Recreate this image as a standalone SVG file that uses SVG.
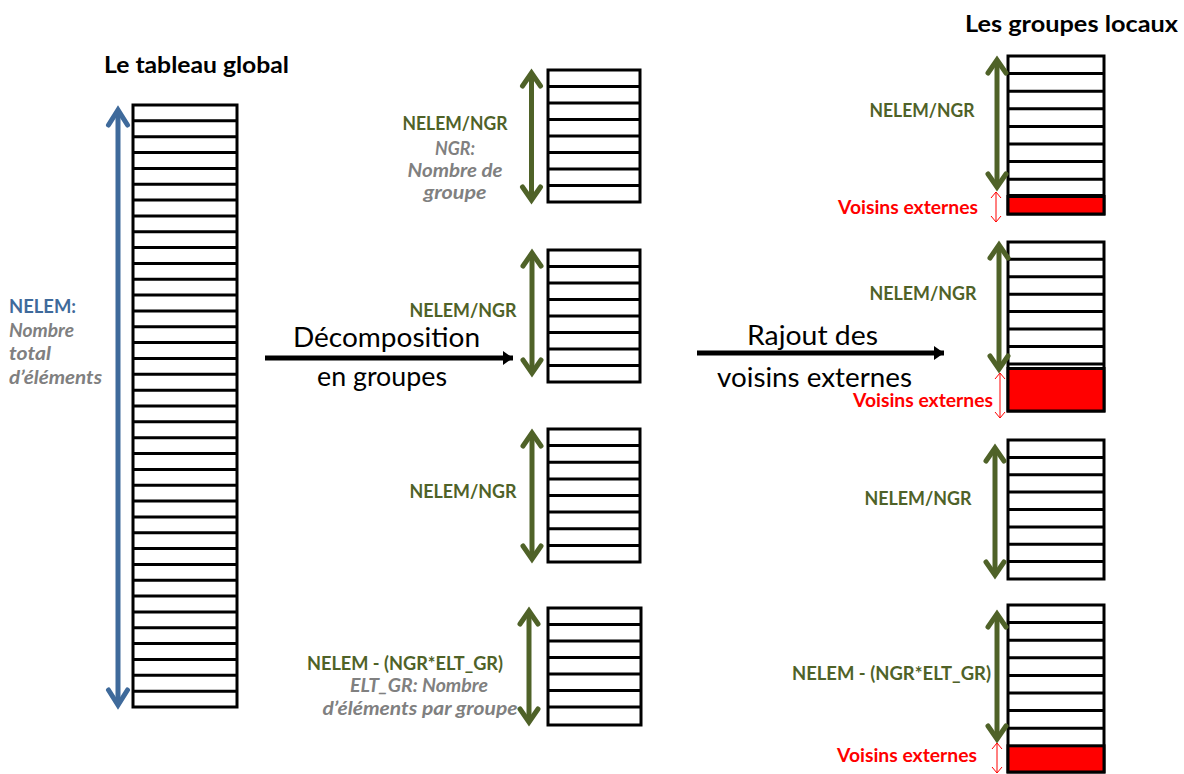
<svg xmlns="http://www.w3.org/2000/svg" width="1184" height="774" viewBox="0 0 1184 774">
<style>
.tbl{fill:#fff;stroke:#000;stroke-width:3}
.rows{fill:none;stroke:#000;stroke-width:3}
.red{fill:#ff0000;stroke:#000;stroke-width:3}
.t{font-family:Lato,"Liberation Sans",sans-serif}
.title{font-size:23px;font-weight:bold;fill:#000}
.big{font-size:27px;fill:#000}
.gl{font-size:18.5px;font-weight:bold;fill:#4F6228}
.gr{font-size:18.5px;font-weight:bold;font-style:italic;fill:#808080}
.bl{font-size:18.5px;font-weight:bold;fill:#3F6A9B}
.rd{font-size:18px;font-weight:bold;fill:#ff0000}
.ga{stroke:#4F6228;stroke-width:5;fill:none}
.ba{stroke:#3F6A9B;stroke-width:5;fill:none}
.ra{stroke:#ff0000;stroke-width:1;fill:none}
.ka{stroke:#000;stroke-width:5;fill:none}
</style>
<defs>
<marker id="mg" markerUnits="userSpaceOnUse" viewBox="-20 -20 40 40" markerWidth="40" markerHeight="40" refX="0" refY="0" orient="auto-start-reverse">
<path d="M-13,-9 L0,0 L-13,9" fill="none" stroke="#4F6228" stroke-width="5" stroke-linecap="round"/>
</marker>
<marker id="mb" markerUnits="userSpaceOnUse" viewBox="-20 -20 40 40" markerWidth="40" markerHeight="40" refX="0" refY="0" orient="auto-start-reverse">
<path d="M-15,-9.5 L0,0 L-15,9.5" fill="none" stroke="#3F6A9B" stroke-width="5" stroke-linecap="round"/>
</marker>
<marker id="mr" markerUnits="userSpaceOnUse" viewBox="-10 -10 20 20" markerWidth="20" markerHeight="20" refX="0" refY="0" orient="auto-start-reverse">
<path d="M-6,-5 L0,0 L-6,5" fill="none" stroke="#ff0000" stroke-width="1"/>
</marker>
<marker id="mk" markerUnits="userSpaceOnUse" viewBox="-12 -12 24 24" markerWidth="24" markerHeight="24" refX="0" refY="0" orient="auto">
<path d="M-10,-7 L0,0 L-10,7 Z" fill="#000"/>
</marker>
</defs>

<text class="t title" x="104" y="73" textLength="185" lengthAdjust="spacingAndGlyphs">Le tableau global</text>
<text class="t title" x="965" y="32" textLength="213" lengthAdjust="spacingAndGlyphs">Les groupes locaux</text>

<g id="global-table">
<rect class="tbl" x="133" y="105" width="104" height="602"/>
<path class="rows" d="M133,120.8H237M133,136.7H237M133,152.5H237M133,168.4H237M133,184.2H237M133,200.1H237M133,215.9H237M133,231.7H237M133,247.6H237M133,263.4H237M133,279.3H237M133,295.1H237M133,311H237M133,326.8H237M133,342.6H237M133,358.5H237M133,374.3H237M133,390.2H237M133,406H237M133,421.8H237M133,437.7H237M133,453.5H237M133,469.4H237M133,485.2H237M133,501.1H237M133,516.9H237M133,532.7H237M133,548.6H237M133,564.4H237M133,580.3H237M133,596.1H237M133,612H237M133,627.8H237M133,643.6H237M133,659.5H237M133,675.3H237M133,691.2H237"/>
<text class="t bl" x="9" y="313" textLength="67" lengthAdjust="spacingAndGlyphs">NELEM:</text>
<text class="t gr" x="9" y="337" textLength="65" lengthAdjust="spacingAndGlyphs">Nombre</text>
<text class="t gr" x="9" y="360" textLength="42" lengthAdjust="spacingAndGlyphs">total</text>
<text class="t gr" x="9" y="384" textLength="93" lengthAdjust="spacingAndGlyphs">d’éléments</text>
</g>

<g id="mid-group-1">
<rect class="tbl" x="548" y="70" width="92" height="132"/>
<path class="rows" d="M548,86.5H640M548,103H640M548,119.5H640M548,136H640M548,152.5H640M548,169H640M548,185.5H640"/>
<text class="t gl" x="455" y="130" text-anchor="middle" textLength="105" lengthAdjust="spacingAndGlyphs">NELEM/NGR</text>
<text class="t gr" x="455" y="155" text-anchor="middle" textLength="40" lengthAdjust="spacingAndGlyphs">NGR:</text>
<text class="t gr" x="455" y="177" text-anchor="middle" textLength="95" lengthAdjust="spacingAndGlyphs">Nombre de</text>
<text class="t gr" x="455" y="199" text-anchor="middle" textLength="63" lengthAdjust="spacingAndGlyphs">groupe</text>
</g>

<g id="mid-group-2">
<rect class="tbl" x="548" y="250" width="92" height="132"/>
<path class="rows" d="M548,266.5H640M548,283H640M548,299.5H640M548,316H640M548,332.5H640M548,349H640M548,365.5H640"/>
<text class="t gl" x="463" y="317" text-anchor="middle" textLength="107" lengthAdjust="spacingAndGlyphs">NELEM/NGR</text>
</g>

<g id="mid-group-3">
<rect class="tbl" x="548" y="429" width="92" height="133"/>
<path class="rows" d="M548,445.6H640M548,462.3H640M548,478.9H640M548,495.5H640M548,512.1H640M548,528.8H640M548,545.4H640"/>
<text class="t gl" x="463" y="498" text-anchor="middle" textLength="107" lengthAdjust="spacingAndGlyphs">NELEM/NGR</text>
</g>

<g id="mid-group-4">
<rect class="tbl" x="548" y="608" width="93" height="117"/>
<path class="rows" d="M548,624.5H641M548,641H641M548,657.5H641M548,674H641M548,690.5H641M548,707H641"/>
<text class="t gl" x="405" y="670" text-anchor="middle" textLength="196" lengthAdjust="spacingAndGlyphs">NELEM - (NGR*ELT_GR)</text>
<text class="t gr" x="419" y="692" text-anchor="middle" textLength="138" lengthAdjust="spacingAndGlyphs">ELT_GR: Nombre</text>
<text class="t gr" x="420" y="715" text-anchor="middle" textLength="195" lengthAdjust="spacingAndGlyphs">d’éléments par groupe</text>
</g>

<g id="right-group-1">
<rect class="tbl" x="1008" y="56" width="96" height="158"/>
<path class="rows" d="M1008,73.6H1104M1008,91.2H1104M1008,108.8H1104M1008,126.4H1104M1008,144H1104M1008,161.6H1104M1008,179.2H1104"/>
<rect class="red" x="1008" y="196.5" width="96" height="17.5"/>
<path d="M1008,195.5H1104" stroke="#000" stroke-width="3"/>
<text class="t gl" x="922" y="117" text-anchor="middle" textLength="105" lengthAdjust="spacingAndGlyphs">NELEM/NGR</text>
<text class="t rd" x="838" y="214" textLength="140" lengthAdjust="spacingAndGlyphs">Voisins externes</text>
</g>

<g id="right-group-2">
<rect class="tbl" x="1008" y="242" width="96" height="169"/>
<path class="rows" d="M1008,259.3H1104M1008,276.7H1104M1008,294.2H1104M1008,311.6H1104M1008,329H1104M1008,346.5H1104M1008,364H1104"/>
<rect class="red" x="1008" y="368.5" width="96" height="42.5"/>
<text class="t gl" x="923" y="300" text-anchor="middle" textLength="107" lengthAdjust="spacingAndGlyphs">NELEM/NGR</text>
<text class="t rd" x="853" y="407" textLength="140" lengthAdjust="spacingAndGlyphs">Voisins externes</text>
</g>

<g id="right-group-3">
<rect class="tbl" x="1008" y="440" width="96" height="139"/>
<path class="rows" d="M1008,457.4H1104M1008,474.8H1104M1008,492.1H1104M1008,509.5H1104M1008,526.9H1104M1008,544.3H1104M1008,561.6H1104"/>
<text class="t gl" x="918" y="505" text-anchor="middle" textLength="107" lengthAdjust="spacingAndGlyphs">NELEM/NGR</text>
</g>

<g id="right-group-4">
<rect class="tbl" x="1008" y="605" width="96" height="167"/>
<path class="rows" d="M1008,622.6H1104M1008,640.2H1104M1008,657.8H1104M1008,675.4H1104M1008,693H1104M1008,710.6H1104M1008,728.2H1104"/>
<rect class="red" x="1008" y="745.8" width="96" height="26.2"/>
<text class="t gl" x="891.5" y="680" text-anchor="middle" textLength="199" lengthAdjust="spacingAndGlyphs">NELEM - (NGR*ELT_GR)</text>
<text class="t rd" x="837" y="762" textLength="140" lengthAdjust="spacingAndGlyphs">Voisins externes</text>
</g>

<g id="connectors">
<line class="ba" x1="118" y1="110" x2="118" y2="705" marker-start="url(#mb)" marker-end="url(#mb)"/>
<line class="ga" x1="531.5" y1="73" x2="531.5" y2="200" marker-start="url(#mg)" marker-end="url(#mg)"/>
<line class="ga" x1="532" y1="253" x2="532" y2="373" marker-start="url(#mg)" marker-end="url(#mg)"/>
<line class="ga" x1="532" y1="433" x2="532" y2="559" marker-start="url(#mg)" marker-end="url(#mg)"/>
<line class="ga" x1="529" y1="611" x2="529" y2="722" marker-start="url(#mg)" marker-end="url(#mg)"/>
<line class="ga" x1="997" y1="60" x2="997" y2="187" marker-start="url(#mg)" marker-end="url(#mg)"/>
<line class="ga" x1="999" y1="245" x2="999" y2="369" marker-start="url(#mg)" marker-end="url(#mg)"/>
<line class="ga" x1="995" y1="448" x2="995" y2="575" marker-start="url(#mg)" marker-end="url(#mg)"/>
<line class="ga" x1="997" y1="614" x2="997" y2="739" marker-start="url(#mg)" marker-end="url(#mg)"/>
<line class="ra" x1="996" y1="192" x2="996" y2="222" marker-start="url(#mr)" marker-end="url(#mr)"/>
<line class="ra" x1="1000" y1="373" x2="1000" y2="418" marker-start="url(#mr)" marker-end="url(#mr)"/>
<line class="ra" x1="997" y1="743" x2="997" y2="773" marker-start="url(#mr)" marker-end="url(#mr)"/>
<line class="ka" x1="265" y1="358" x2="513" y2="358" marker-end="url(#mk)"/>
<line class="ka" x1="697" y1="353" x2="944" y2="353" marker-end="url(#mk)"/>
<text class="t big" x="293" y="347" textLength="187" lengthAdjust="spacingAndGlyphs">Décomposition</text>
<text class="t big" x="317" y="386" textLength="130" lengthAdjust="spacingAndGlyphs">en groupes</text>
<text class="t big" x="747" y="345" textLength="131" lengthAdjust="spacingAndGlyphs">Rajout des</text>
<text class="t big" x="717" y="387" textLength="195" lengthAdjust="spacingAndGlyphs">voisins externes</text>
</g>
</svg>
